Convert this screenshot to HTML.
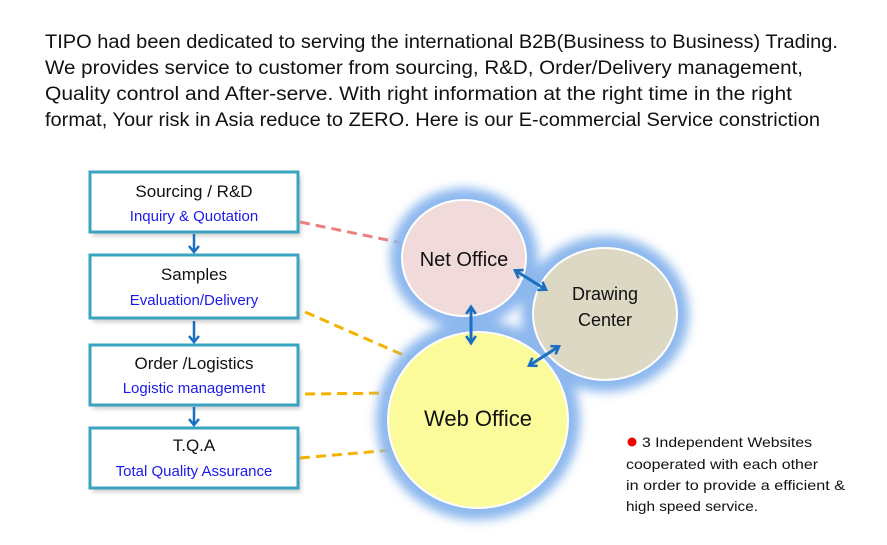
<!DOCTYPE html>
<html><head><meta charset="utf-8"><style>body{margin:0;background:#fff}svg{display:block}</style></head><body>
<svg width="887" height="545" viewBox="0 0 887 545" xmlns="http://www.w3.org/2000/svg" font-family="Liberation Sans, sans-serif">
<defs>
<filter id="glow" x="-30%" y="-30%" width="160%" height="160%"><feGaussianBlur stdDeviation="5"/></filter>
<filter id="sh" x="-10%" y="-10%" width="130%" height="140%"><feGaussianBlur stdDeviation="2"/></filter>
<marker id="ah" viewBox="0 0 10 10" refX="6" refY="5" markerWidth="4" markerHeight="4" orient="auto-start-reverse"><path d="M1,1 L7,5 L1,9" fill="none" stroke="#1a6fc0" stroke-width="2.2"/></marker>
</defs>
<g font-size="19" fill="#111">
<text x="45" y="48" textLength="793" lengthAdjust="spacingAndGlyphs">TIPO had been dedicated to serving the international B2B(Business to  Business) Trading.</text>
<text x="45" y="74" textLength="758" lengthAdjust="spacingAndGlyphs">We provides service  to customer from sourcing, R&amp;D, Order/Delivery management,</text>
<text x="45" y="100" textLength="747" lengthAdjust="spacingAndGlyphs">Quality control and After-serve. With right information at the right time in the right</text>
<text x="45" y="126" textLength="775" lengthAdjust="spacingAndGlyphs">format, Your risk in Asia reduce to ZERO. Here is our E-commercial Service constriction</text>
</g>
<g stroke-width="3" stroke-dasharray="10,6" fill="none">
<line x1="300" y1="222" x2="402" y2="243" stroke="#f08080"/>
<line x1="305" y1="312" x2="410" y2="358" stroke="#f5b300"/>
<line x1="305" y1="394" x2="395" y2="393" stroke="#f5b300"/>
<line x1="300" y1="458" x2="392" y2="450" stroke="#f5b300"/>
</g>
<g fill="#8db8ee" filter="url(#glow)">
<ellipse cx="464" cy="258" rx="74" ry="70"/>
<ellipse cx="605" cy="314" rx="84" ry="78"/>
<ellipse cx="478" cy="420" rx="102" ry="100"/>
</g>
<ellipse cx="464" cy="258" rx="62" ry="58" fill="#f0dada" stroke="#fff" stroke-width="2"/>
<ellipse cx="605" cy="314" rx="72" ry="66" fill="#dcd8c4" stroke="#fff" stroke-width="2"/>
<ellipse cx="478" cy="420" rx="90" ry="88" fill="#fbfb9c" stroke="#fff" stroke-width="2"/>
<g fill="#111" text-anchor="middle">
<text x="464" y="266" font-size="20">Net Office</text>
<text x="605" y="300" font-size="18">Drawing</text>
<text x="605" y="326" font-size="18">Center</text>
<text x="478" y="426" font-size="22">Web  Office</text>
</g>
<g stroke="#1a6fc0" stroke-width="3" marker-start="url(#ah)" marker-end="url(#ah)">
<line x1="471" y1="308" x2="471" y2="342"/>
<line x1="516" y1="271" x2="545" y2="289"/>
<line x1="530" y1="365" x2="558" y2="347"/>
</g>
<g>
<g fill="#999" opacity="0.5" filter="url(#sh)">
<rect x="93" y="176" width="208" height="60"/><rect x="93" y="259" width="208" height="63"/>
<rect x="93" y="349" width="208" height="60"/><rect x="93" y="432" width="208" height="60"/>
</g>
<g fill="#fff" stroke="#3aa3c0" stroke-width="3">
<rect x="90" y="172" width="208" height="60"/><rect x="90" y="255" width="208" height="63"/>
<rect x="90" y="345" width="208" height="60"/><rect x="90" y="428" width="208" height="60"/>
</g>
</g>
<g text-anchor="middle">
<g fill="#111" font-size="17">
<text x="194" y="197">Sourcing  / R&amp;D</text>
<text x="194" y="280">Samples</text>
<text x="194" y="369">Order /Logistics</text>
<text x="194" y="451">T.Q.A</text>
</g>
<g fill="#1a1aee" font-size="15">
<text x="194" y="221">Inquiry &amp; Quotation</text>
<text x="194" y="305">Evaluation/Delivery</text>
<text x="194" y="393">Logistic management</text>
<text x="194" y="476">Total Quality Assurance</text>
</g>
</g>
<g stroke="#1a6fc0" stroke-width="2.5" fill="none">
<line x1="194" y1="234" x2="194" y2="251"/><path d="M189,246 L194,252 L199,246"/>
<line x1="194" y1="321" x2="194" y2="341"/><path d="M189,336 L194,342 L199,336"/>
<line x1="194" y1="407" x2="194" y2="424"/><path d="M189,419 L194,425 L199,419"/>
</g>
<circle cx="632" cy="442" r="4.5" fill="#e00"/>
<g font-size="14" fill="#111">
<text x="642" y="447" textLength="170" lengthAdjust="spacingAndGlyphs">3 Independent  Websites</text>
<text x="626" y="469" textLength="192" lengthAdjust="spacingAndGlyphs">cooperated with each other</text>
<text x="626" y="490" textLength="219" lengthAdjust="spacingAndGlyphs">in order to provide a efficient &amp;</text>
<text x="626" y="511" textLength="132" lengthAdjust="spacingAndGlyphs">high speed service.</text>
</g>
</svg>
</body></html>
